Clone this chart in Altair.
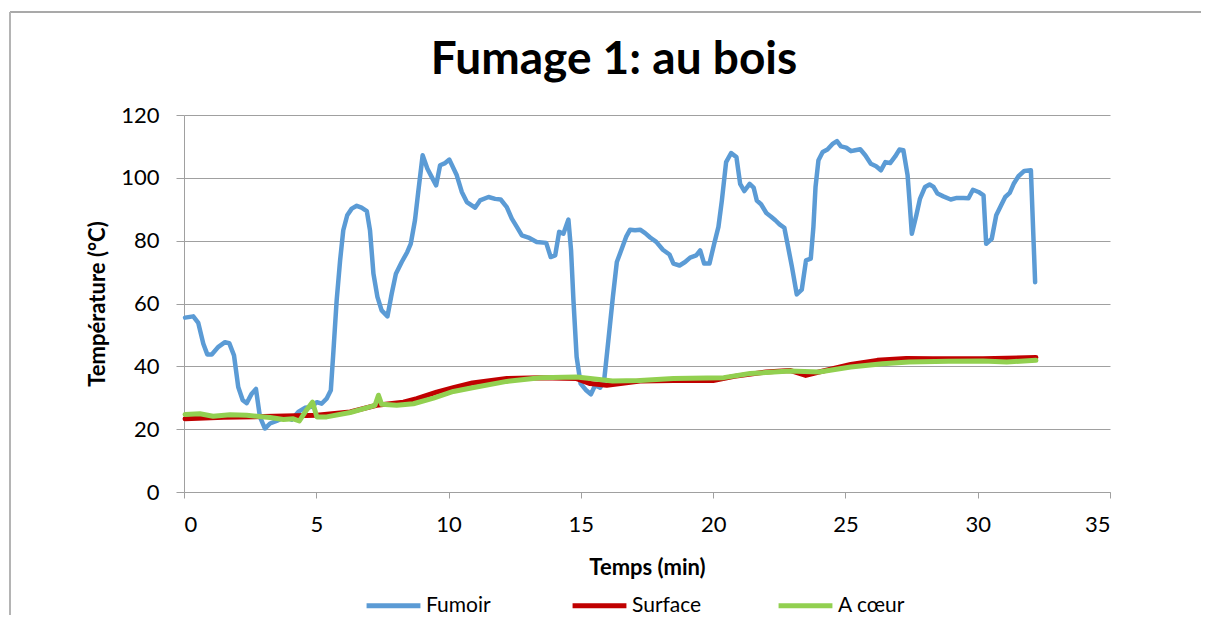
import altair as alt
import pandas as pd

# ---- data ----
fumoir_t = [0.04, 0.35, 0.54, 0.73, 0.88, 1.05, 1.30, 1.55, 1.71, 1.89, 2.05, 2.22, 2.37, 2.56, 2.72,
            2.87, 3.06, 3.25, 3.50, 3.82, 4.07, 4.32, 4.57, 4.83, 5.02, 5.20, 5.39, 5.55, 5.65, 5.77,
            5.90, 6.02, 6.17, 6.34, 6.53, 6.71, 6.91, 7.03, 7.16, 7.31, 7.47, 7.69, 7.85, 8.01, 8.23,
            8.44, 8.57, 8.73, 8.86, 9.02, 9.20, 9.36, 9.53, 9.68, 9.87, 10.03, 10.31, 10.50, 10.69, 11.00,
            11.19, 11.51, 11.76, 11.97, 12.20, 12.39, 12.58, 12.77, 13.02, 13.33, 13.69, 13.86, 14.03, 14.18,
            14.34, 14.53, 14.63, 14.72, 14.84, 14.99, 15.20, 15.38, 15.54, 15.73, 15.88, 16.04, 16.21, 16.36,
            16.55, 16.71, 16.86, 17.05, 17.24, 17.43, 17.62, 17.85, 18.10, 18.35, 18.50, 18.73, 18.94, 19.13,
            19.36, 19.51, 19.66, 19.86, 20.04, 20.20, 20.33, 20.49, 20.68, 20.88, 21.02, 21.18, 21.38, 21.53,
            21.65, 21.81, 22.01, 22.18, 22.35, 22.51, 22.69, 22.81, 22.98, 23.16, 23.35, 23.51, 23.69, 23.79,
            23.87, 23.98, 24.14, 24.32, 24.53, 24.68, 24.83, 25.03, 25.21, 25.37, 25.56, 25.75, 25.96, 26.16,
            26.34, 26.51, 26.69, 26.88, 27.04, 27.19, 27.35, 27.43, 27.51, 27.68, 27.82, 28.01, 28.18, 28.33,
            28.48, 28.70, 28.98, 29.21, 29.46, 29.65, 29.82, 30.03, 30.22, 30.32, 30.53, 30.70, 30.88, 31.04,
            31.21, 31.36, 31.54, 31.76, 32.01, 32.17]
fumoir_v = [55.5, 55.9, 53.8, 47.2, 43.8, 43.8, 46.2, 47.7, 47.4, 43.5, 33.4, 29.2, 28.3, 31.3, 32.8,
            23.9, 20.2, 21.8, 22.6, 23.9, 23.0, 25.5, 26.8, 27.1, 28.6, 28.1, 29.7, 32.4, 45.1, 61.0,
            73.7, 83.3, 88.1, 90.2, 91.1, 90.5, 89.4, 83.3, 69.5, 62.1, 57.8, 55.9, 63.1, 69.5, 73.2,
            76.4, 79.0, 86.5, 96.0, 107.2, 102.9, 100.3, 97.6, 104.0, 104.7, 105.8, 100.8, 95.5, 92.3, 90.5,
            92.8, 93.9, 93.3, 93.1, 90.7, 87.0, 84.4, 81.7, 81.0, 79.6, 79.3, 74.8, 75.3, 82.8,
            82.2, 86.7, 76.9, 61.0, 43.0, 34.5, 32.4, 31.1, 34.0, 33.2, 35.5, 48.3, 62.1, 73.2,
            77.5, 81.2, 83.5, 83.3, 83.5, 82.4, 81.0, 79.6, 77.1, 75.6, 72.7, 72.1, 73.2, 74.6,
            75.3, 76.9, 72.7, 72.7, 79.0, 84.4, 92.8, 105.0, 107.9, 106.6, 98.1, 95.8, 98.1, 96.9,
            92.8, 91.6, 88.8, 87.7, 86.5, 85.2, 84.1, 79.0, 71.6, 62.9, 64.4, 73.7, 74.3, 84.4,
            97.1, 105.6, 108.2, 109.0, 110.9, 111.7, 110.0, 109.6, 108.5, 108.8, 109.1, 107.2, 104.5, 103.7,
            102.4, 105.0, 104.7, 106.8, 109.0, 108.8, 100.8, 91.8, 82.2, 88.1, 93.4, 97.1, 97.9, 97.1,
            95.0, 94.1, 93.1, 93.6, 93.6, 93.5, 96.2, 95.5, 94.4, 79.0, 80.6, 88.1, 91.2, 93.9,
            95.2, 98.1, 100.5, 102.2, 102.4, 66.8]

surface_t = [0.04, 1.5, 3.0, 5.02, 6.28, 7.28, 8.29, 8.8, 9.55, 10.18, 10.9, 12.2, 13.46, 14.84,
             15.35, 15.98, 17.24, 18.5, 20.0, 20.8, 22.0, 22.9, 23.5, 24.0, 25.2, 26.2, 27.3, 28.3,
             30.2, 32.2]
surface_v = [23.3, 23.8, 24.0, 24.4, 25.5, 27.6, 28.6, 29.7, 31.8, 33.2, 34.7, 36.1, 36.4, 36.1,
             34.5, 34.0, 35.3, 35.5, 35.5, 36.8, 38.2, 38.7, 37.1, 38.2, 40.6, 41.9, 42.5, 42.4,
             42.4, 42.8]

coeur_t = [0.04, 0.6, 1.1, 1.74, 2.37, 3.25, 3.76, 4.13, 4.36, 4.64, 4.86, 5.02, 5.39, 6.28, 7.03,
           7.22, 7.35, 7.47, 8.04, 8.67, 9.43, 10.18, 10.9, 12.2, 13.46, 14.84, 15.35, 16.2, 17.24,
           18.5, 20.4, 21.4, 22.9, 24.0, 25.2, 26.4, 27.4, 28.9, 30.2, 31.1, 32.2]
coeur_v = [24.7, 24.9, 24.1, 24.6, 24.4, 23.7, 23.1, 23.3, 22.6, 26.2, 28.6, 23.9, 23.9, 25.3, 27.1,
           27.6, 30.8, 27.9, 27.6, 28.1, 29.9, 32.0, 33.2, 35.2, 36.4, 36.6, 36.1, 35.3, 35.5,
           36.1, 36.4, 37.7, 38.5, 38.2, 39.8, 40.8, 41.4, 41.6, 41.7, 41.4, 41.9]

series_names = ["Fumoir", "Surface", "A cœur"]
series_colors = ["#5B9BD5", "#C00000", "#92D050"]
x_ticks = [0, 5, 10, 15, 20, 25, 30, 35]
y_ticks = [0, 20, 40, 60, 80, 100, 120]

rows = []
for name, ts, vs, w in [("Fumoir", fumoir_t, fumoir_v, 4.5),
                        ("Surface", surface_t, surface_v, 5),
                        ("A cœur", coeur_t, coeur_v, 5)]:
    for t, v in zip(ts, vs):
        rows.append({"t": t, "v": v, "serie": name, "w": w})
df = pd.DataFrame(rows)

FONT = "Lato"

lines = alt.Chart(df).mark_line(strokeCap="round", strokeJoin="round").encode(
    x=alt.X("t:Q", title="Temps (min)",
            scale=alt.Scale(domain=[0, 35], nice=False, zero=True),
            axis=alt.Axis(values=x_ticks, grid=False, tickSize=6, labelPadding=16,
                          titlePadding=22, format="d")),
    y=alt.Y("v:Q", title="Température (°C)",
            scale=alt.Scale(domain=[0, 120], nice=False),
            axis=alt.Axis(values=y_ticks, grid=True, tickSize=8, labelPadding=17,
                          titlePadding=11)),
    color=alt.Color("serie:N", title=None,
                    scale=alt.Scale(domain=series_names, range=series_colors),
                    legend=alt.Legend(orient="none", direction="horizontal",
                                      legendX=180, legendY=461,
                                      symbolType="stroke", symbolSize=2900,
                                      symbolStrokeWidth=5, labelFontSize=21,
                                      labelFont=FONT, labelColor="#000",
                                      gridAlign="all", columnPadding=66,
                                      labelOffset=3)),
    strokeWidth=alt.StrokeWidth("w:Q", scale=None, legend=None),
    detail="serie:N",
)

border_top = alt.Chart(pd.DataFrame({"a": [0]})).mark_rule(color="#8c8c8c", strokeWidth=1.5).encode(
    x=alt.value(-174), x2=alt.value(1040), y=alt.value(-103))
border_left = alt.Chart(pd.DataFrame({"a": [0]})).mark_rule(color="#b4b4b4", strokeWidth=2).encode(
    x=alt.value(-174), y=alt.value(-103), y2=alt.value(520))

chart = alt.layer(border_top, border_left, lines).properties(
    width=926, height=377,
    title=alt.Title("Fumage 1: au bois", fontSize=46, font=FONT, fontWeight="bold",
                    color="#000", anchor="middle", dx=-33, dy=73, offset=0),
    autosize=alt.AutoSizeParams(type="none"),
    padding={"left": 176, "top": 107, "right": 91, "bottom": 123},
).configure_view(stroke=None).configure_axis(
    domainColor="#a0a0a0", tickColor="#a0a0a0", gridColor="#a0a0a0",
    labelFont=FONT, labelFontSize=22, labelColor="#000",
    titleFont=FONT, titleFontSize=22, titleFontWeight="bold", titleColor="#000",
    domainWidth=1, tickWidth=1, gridWidth=1,
)

chart.save("out.html", embed_options={"renderer": "svg", "actions": False})
